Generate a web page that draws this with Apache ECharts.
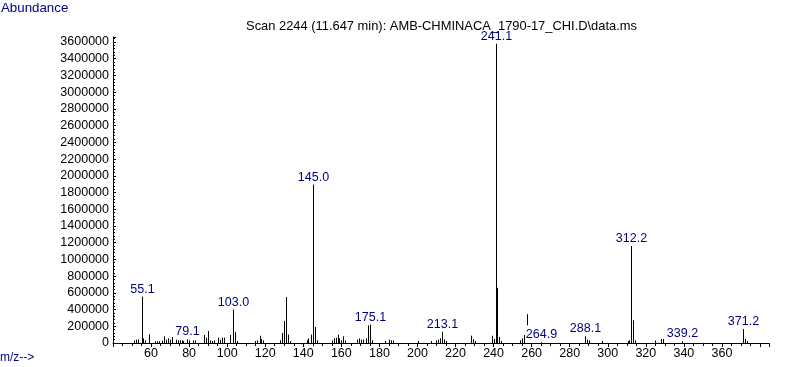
<!DOCTYPE html>
<html>
<head>
<meta charset="utf-8">
<script src="https://cdn.jsdelivr.net/npm/echarts@6/dist/echarts.min.js"></script>
<style>
html,body{margin:0;padding:0;background:#fff;}
#chart{width:787px;height:367px;}
</style>
</head>
<body>
<div id="chart"></div>
<script>
// m/z of each peak
const mzValues = [
  51, 52, 53, 55.1, 56, 57, 59, 62, 63, 64, 66, 67, 68, 69, 70, 71, 73, 74, 75, 76, 77, 79.1, 80, 82, 83,
  88, 89, 90, 91, 92, 93, 95, 96, 97.4, 98.5, 101.5, 103.0, 104, 105,
  114.6, 115.7, 117, 118, 119, 128, 129, 130, 131, 132, 133,
  141.8, 142.6, 143.8, 145.0, 146, 147, 155, 156, 157, 158, 159, 160, 161, 162,
  168.4, 169.4, 170.3, 171.5, 172.8, 174, 175.1, 176, 183, 185, 186, 187,
  200.4, 207, 210, 211, 212, 213.1, 214, 215, 228, 229, 230,
  239.3, 240.2, 241.1, 242, 243, 244, 253.8, 254.7, 256, 264.9,
  288.1, 289, 290, 297, 310.4, 311.3, 312.2, 313.4, 314.5, 325, 328, 328.8, 339.2,
  371.2, 372.2, 373.3
];
// abundance of each peak
const abundances = [
  32000, 40000, 44000, 555000, 56000, 32000, 104000, 20000, 20000, 20000, 28000, 80000, 40000, 56000, 40000, 72000, 40000, 32000, 32000, 32000, 24000, 44000, 32000, 32000, 32000,
  96000, 64000, 144000, 32000, 24000, 32000, 64000, 40000, 64000, 64000, 96000, 400000, 130000, 24000,
  24000, 32000, 88000, 48000, 32000, 32000, 120000, 264000, 550000, 100000, 24000,
  32000, 56000, 100000, 1895000, 192000, 32000, 32000, 56000, 64000, 100000, 56000, 32000, 80000, 32000,
  40000, 56000, 40000, 40000, 56000, 210000, 220000, 32000, 24000, 40000, 32000, 32000,
  24000, 24000, 32000, 40000, 56000, 135000, 44000, 24000, 88000, 44000, 24000,
  88000, 48000, 3580000, 660000, 72000, 24000, 32000, 56000, 96000, 8000,
  80000, 40000, 32000, 24000, 24000, 32000, 1160000, 272000, 32000, 32000, 48000, 48000, 20000,
  168000, 48000, 24000
];
// labelled peaks
const labelledMz = [55.1, 79.1, 103.0, 145.0, 175.1, 213.1, 241.1, 264.9, 288.1, 312.2, 339.2, 371.2];
// floating marker segment: [m/z, low, high]
const markerSegment = [257.4, 212000, 344000];

const titleText = 'Scan 2244 (11.647 min): AMB-CHMINACA_1790-17_CHI.D\\data.ms';
const yAxisName = 'Abundance';
const xAxisName = 'm/z-->';

const peakData = mzValues.map((m, i) => [m, abundances[i]]);
const labelData = labelledMz.map(m => [m, abundances[mzValues.indexOf(m)], m.toFixed(1)]);

const FONT = '"Liberation Sans", Arial, sans-serif';
const chart = echarts.init(document.getElementById('chart'), null, {renderer: 'canvas'});
chart.setOption({
  animation: false,
  backgroundColor: '#fff',
  grid: {left: 113, right: 17.5, top: 37, bottom: 24, containLabel: false},
  xAxis: {
    type: 'value', min: 40, max: 385, interval: 20,
    axisLine: {show: true, lineStyle: {color: '#000', width: 1}},
    axisTick: {show: true, length: 4, lineStyle: {color: '#000'}},
    minorTick: {show: true, splitNumber: 4, length: 3, lineStyle: {color: '#000'}},
    splitLine: {show: false},
    minorSplitLine: {show: false},
    axisLabel: {
      color: '#000', fontFamily: FONT, fontSize: 12.5, margin: 4,
      formatter: v => (v >= 60 && v <= 360) ? String(v) : ''
    }
  },
  yAxis: {
    type: 'value', min: 0, max: 3660000, interval: 200000,
    axisLine: {show: true, lineStyle: {color: '#000', width: 1}},
    axisTick: {show: true, inside: true, length: 3, lineStyle: {color: '#000'}},
    minorTick: {show: true, splitNumber: 5, length: 2, lineStyle: {color: '#000'}},
    splitLine: {show: false},
    minorSplitLine: {show: false},
    axisLabel: {
      color: '#000', fontFamily: FONT, fontSize: 12.5, margin: 4,
      formatter: v => (v % 200000 === 0) ? String(v) : ''
    }
  },
  graphic: [
    {type: 'text', left: 1, top: 2, style: {text: yAxisName, fill: '#000080', font: '13.3px ' + FONT}},
    {type: 'text', left: 0, top: 352, style: {text: xAxisName, fill: '#000080', font: '12px ' + FONT}},
    {type: 'text', x: 441.5, y: 26, style: {text: titleText, fill: '#000', font: '12.9px ' + FONT, align: 'center', verticalAlign: 'middle'}}
  ],
  series: [
    {
      type: 'custom',
      data: peakData,
      clip: true,
      renderItem: (params, api) => {
        const top = api.coord([api.value(0), api.value(1)]);
        const base = api.coord([api.value(0), 0]);
        const x = Math.round(top[0]) + 0.5;
        return {type: 'line', shape: {x1: x, y1: base[1], x2: x, y2: top[1]}, style: {stroke: '#000', lineWidth: 1}};
      }
    },
    {
      type: 'custom',
      data: [markerSegment],
      renderItem: (params, api) => {
        const a = api.coord([api.value(0), api.value(1)]);
        const b = api.coord([api.value(0), api.value(2)]);
        const x = Math.round(a[0]) + 0.5;
        return {type: 'line', shape: {x1: x, y1: a[1], x2: x, y2: b[1]}, style: {stroke: '#000', lineWidth: 1}};
      }
    },
    {
      type: 'custom',
      data: labelData,
      renderItem: (params, api) => {
        const p = api.coord([api.value(0), api.value(1)]);
        return {type: 'text', x: Math.round(p[0]) + 0.5, y: p[1] - 1,
          style: {text: labelData[params.dataIndex][2], fill: '#000080', font: '12.5px ' + FONT, align: 'center', verticalAlign: 'bottom'}};
      }
    }
  ]
});
</script>
</body>
</html>
